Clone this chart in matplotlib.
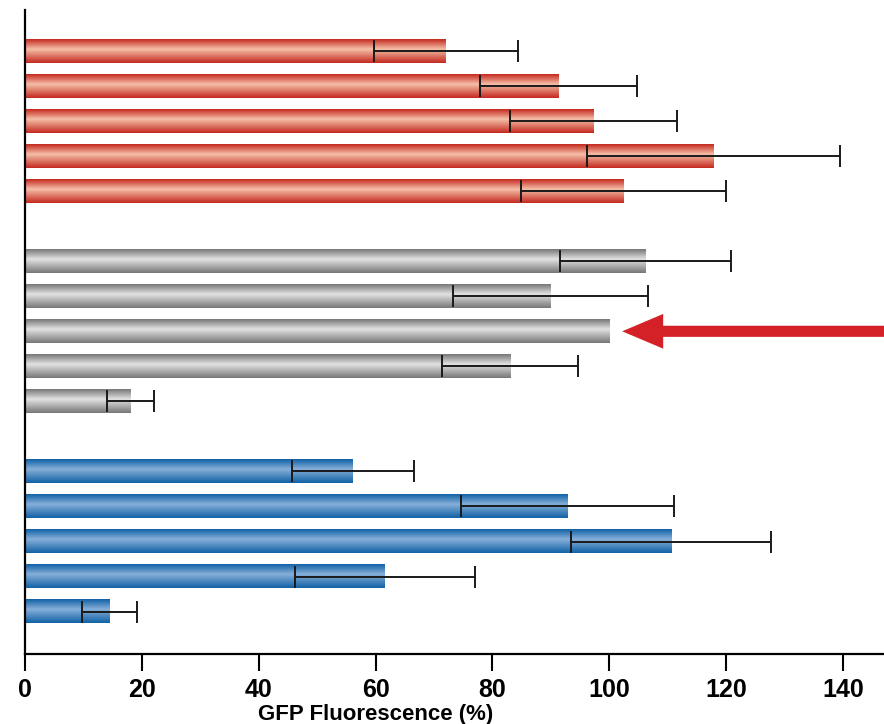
import numpy as np
import matplotlib.pyplot as plt
from matplotlib.colors import LinearSegmentedColormap

# values, top to bottom within each group
red_vals = [72, 91.3, 97.3, 117.8, 102.4]
red_err = [12.3, 13.4, 14.3, 21.6, 17.5]
gray_vals = [106.2, 89.9, 100, 83, 18]
gray_err = [14.6, 16.7, 0, 11.7, 4]
blue_vals = [56.1, 92.8, 110.6, 61.6, 14.5]
blue_err = [10.4, 18.2, 17.1, 15.4, 4.7]

red_pos = [0, 1, 2, 3, 4]
gray_pos = [6, 7, 8, 9, 10]
blue_pos = [12, 13, 14, 15, 16]

arrow_bar = 2  # index of the gray bar the arrow points at

plt.rcParams['font.family'] = ['Liberation Sans', 'DejaVu Sans']

fig = plt.figure(figsize=(8.84, 7.24), dpi=100)
ax = fig.add_axes([25 / 884, 70 / 724, 859 / 884, 644 / 724])

h = 0.67

def tube_cmap(edge, mid):
    # dark edge -> light centre -> dark edge, centre a bit above the middle
    return LinearSegmentedColormap.from_list('t', [(0, edge), (0.42, mid), (1, edge)])

cmaps = {
    'red': tube_cmap('#c42a20', '#f5bfa8'),
    'gray': tube_cmap('#787878', '#e2e2e2'),
    'blue': tube_cmap('#1262a6', '#86afd9'),
}

grad = np.linspace(0, 1, 64).reshape(-1, 1)

def draw_group(vals, errs, pos, cmap):
    for v, e, p in zip(vals, errs, pos):
        ax.imshow(grad, cmap=cmap, aspect='auto', interpolation='bilinear',
                  extent=(0, v, p + h / 2, p - h / 2), zorder=2)
        if e > 0:
            ax.errorbar(v, p, xerr=e, fmt='none', ecolor='#1a1a1a',
                        elinewidth=1.4, capsize=8, capthick=1.4, zorder=3)

draw_group(red_vals, red_err, red_pos, cmaps['red'])
draw_group(gray_vals, gray_err, gray_pos, cmaps['gray'])
draw_group(blue_vals, blue_err, blue_pos, cmaps['blue'])

# red arrow pointing at the reference bar
ya = gray_pos[arrow_bar]
xa = gray_vals[arrow_bar]
ax.annotate('', xy=(xa + 2.2, ya), xytext=(148, ya),
            arrowprops=dict(arrowstyle='simple,head_length=2.95,head_width=2.5,tail_width=0.8',
                            mutation_scale=10, color='#d42027', lw=0,
                            shrinkA=0, shrinkB=0),
            annotation_clip=False, zorder=4)

ax.set_xlim(0, 147)
ax.set_ylim(17.21, -1.17)
ax.set_yticks([])
ax.set_xticks(range(0, 141, 20))
ax.tick_params(axis='x', direction='out', length=12, width=1.5, pad=5,
               labelsize=18)
for lab in ax.get_xticklabels():
    lab.set_fontweight('bold')
ax.spines['top'].set_visible(False)
ax.spines['right'].set_visible(False)
ax.spines['left'].set_linewidth(1.6)
ax.spines['bottom'].set_linewidth(1.6)
ax.set_xlabel('GFP Fluorescence (%)', fontsize=16, fontweight='bold')
ax.xaxis.set_label_coords(0.408, -0.078)

plt.savefig('out.png', dpi=100)
